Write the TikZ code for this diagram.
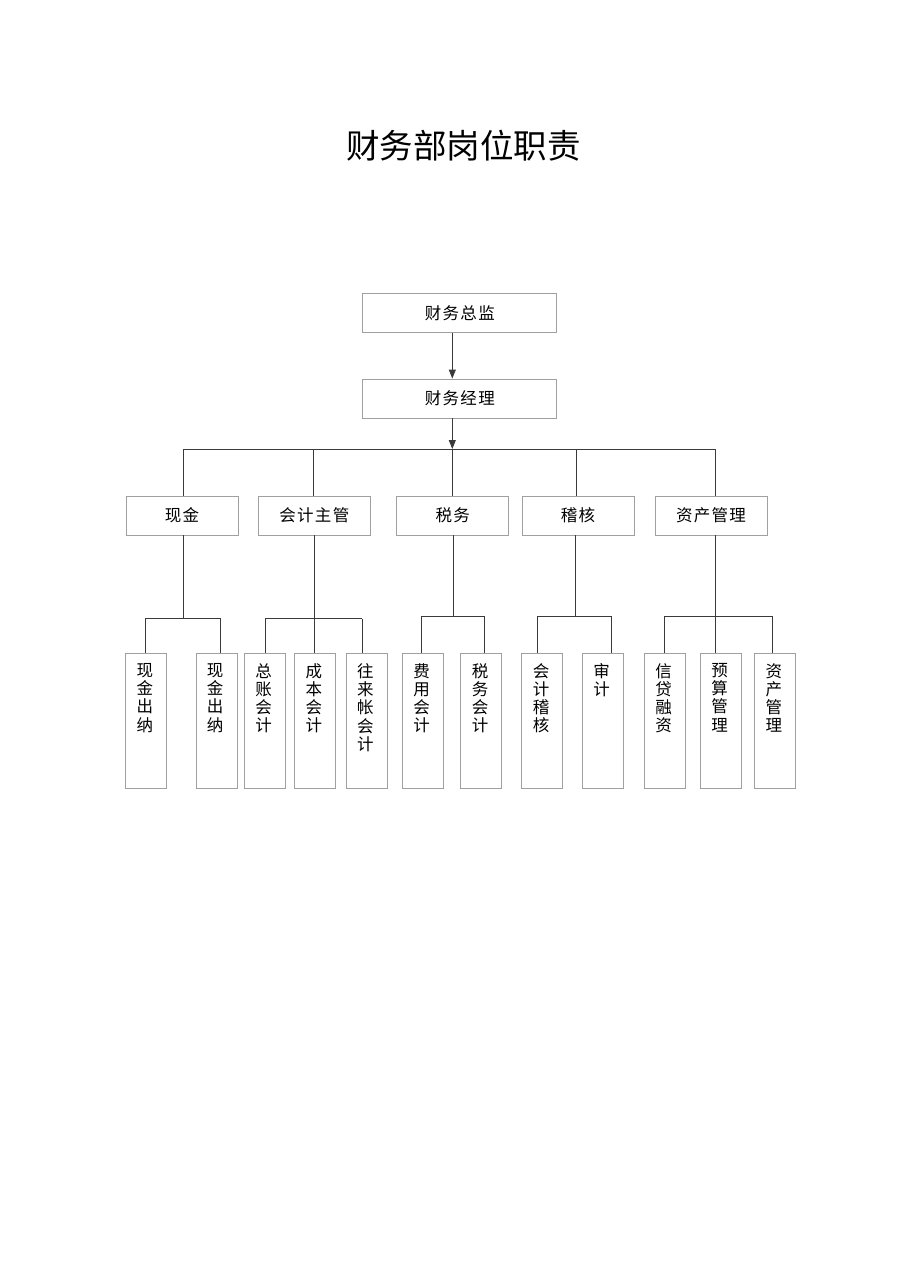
\documentclass[tikz,border=0pt]{standalone}
\usepackage{fontspec}
\newfontfamily\cjk{Noto Sans CJK SC}
\newfontfamily\cjksp[LetterSpace=8]{Noto Sans CJK SC}
\usetikzlibrary{arrows.meta}
\definecolor{boxgray}{HTML}{A0A0A0}
\definecolor{linegray}{HTML}{3A3A3A}
\tikzset{
  box/.style={draw=boxgray, line width=0.8pt, inner sep=0pt, fill=white,
    font=\cjksp\fontsize{16.5}{18.3}\selectfont},
  topbox/.style={box, minimum width=194pt, minimum height=39pt},
  midbox/.style={box, minimum width=112pt, minimum height=39pt},
  leafbox/.style={box, minimum width=41pt, minimum height=135pt},
  vtext/.style={anchor=north, inner sep=0pt, align=center,
    font=\cjk\fontsize{16.5}{18.3}\selectfont},
  conn/.style={draw=linegray, line width=0.8pt},
  arr/.style={conn, -{Triangle[width=7pt,length=9pt]}},
  titletext/.style={font=\cjk\fontsize{33.5}{36}\selectfont, inner sep=0pt}
}
\begin{document}
\begin{tikzpicture}[x=1pt,y=-1pt]
\useasboundingbox (0,0) rectangle (909,1286);
\node[titletext] (title) at (463.3,145.7) {财务部岗位职责};

% level 0/1
\node[topbox] (top) at (459.8,313) {财务总监};
\node[topbox] (mgr) at (459.8,398.5) {财务经理};

% level 2
\node[midbox] (xj) at (182,515.5) {现金};
\node[midbox] (kj) at (314.3,515.5) {会计主管};
\node[midbox] (sw) at (452.8,515.5) {税务};
\node[midbox] (jh) at (578,515.5) {稽核};
\node[midbox] (zc) at (711,515.5) {资产管理};

% level 3
\node[leafbox] (a1) at (146,720.5) {};
\node[leafbox] (a2) at (216.5,720.5) {};
\node[leafbox] (b1) at (265,720.5) {};
\node[leafbox] (b2) at (315,720.5) {};
\node[leafbox] (b3) at (366.5,720.5) {};
\node[leafbox] (c1) at (422.5,720.5) {};
\node[leafbox] (c2) at (481,720.5) {};
\node[leafbox] (d1) at (542,720.5) {};
\node[leafbox] (d2) at (602.5,720.5) {};
\node[leafbox] (e1) at (664.5,720.5) {};
\node[leafbox] (e2) at (720.5,720.5) {};
\node[leafbox] (e3) at (775,720.5) {};

\node[vtext] (ta1) at (144.8,663) {现\\金\\出\\纳};
\node[vtext] (ta2) at (215.2,663) {现\\金\\出\\纳};
\node[vtext] (tb1) at (263.5,663) {总\\账\\会\\计};
\node[vtext] (tb2) at (313.8,663) {成\\本\\会\\计};
\node[vtext] (tb3) at (365.3,663) {往\\来\\帐\\会\\计};
\node[vtext] (tc1) at (421.5,663) {费\\用\\会\\计};
\node[vtext] (tc2) at (480,663) {税\\务\\会\\计};
\node[vtext] (td1) at (541,663) {会\\计\\稽\\核};
\node[vtext] (td2) at (601.5,663) {审\\计};
\node[vtext] (te1) at (663.5,663) {信\\贷\\融\\资};
\node[vtext] (te2) at (719.5,663) {预\\算\\管\\理};
\node[vtext] (te3) at (773.8,663) {资\\产\\管\\理};

% spine
\coordinate (spine) at (452.3,0);
\coordinate (busL) at (183.5,449);
\coordinate (busR) at (715,449);
\coordinate (busM) at (452.3,449);
\draw[arr] (top.south -| spine) -- (mgr.north -| spine);
\draw[conn] (busL) -- (busR);
\draw[arr] (mgr.south -| spine) -- (busM);
\draw[conn] (busL) -- (busL |- xj.north);
\draw[conn] (313.8,449) coordinate (bk) -- (bk |- kj.north);
\draw[conn] (busM) -- (busM |- sw.north);
\draw[conn] (576,449) coordinate (bj) -- (bj |- jh.north);
\draw[conn] (busR) -- (busR |- zc.north);

% 现金 group
\coordinate (hA) at (183.5,618);
\coordinate (hAL) at (145,618);
\coordinate (hAR) at (220,618);
\draw[conn] (xj.south -| hA) -- (hA);
\draw[conn] (hAL) -- (hAR);
\draw[conn] (hAL) -- (hAL |- a1.north);
\draw[conn] (hAR) -- (hAR |- a2.north);

% 会计主管 group
\coordinate (hB) at (314,618.5);
\coordinate (hBL) at (265,618.5);
\coordinate (hBR) at (362,618.5);
\draw[conn] (kj.south -| hB) -- (hB |- b2.north);
\draw[conn] (hBL) -- (hBR);
\draw[conn] (hBL) -- (hBL |- b1.north);
\draw[conn] (hBR) -- (hBR |- b3.north);

% 税务 group
\coordinate (hC) at (453,616);
\coordinate (hCL) at (421.7,616);
\coordinate (hCR) at (484,616);
\draw[conn] (sw.south -| hC) -- (hC);
\draw[conn] (hCL) -- (hCR);
\draw[conn] (hCL) -- (hCL |- c1.north);
\draw[conn] (hCR) -- (hCR |- c2.north);

% 稽核 group
\coordinate (hD) at (575.7,616);
\coordinate (hDL) at (537.7,616);
\coordinate (hDR) at (611.7,616);
\draw[conn] (jh.south -| hD) -- (hD);
\draw[conn] (hDL) -- (hDR);
\draw[conn] (hDL) -- (hDL |- d1.north);
\draw[conn] (hDR) -- (hDR |- d2.north);

% 资产管理 group
\coordinate (hE) at (715,616);
\coordinate (hEL) at (664,616);
\coordinate (hER) at (772,616);
\draw[conn] (zc.south -| hE) -- (hE |- e2.north);
\draw[conn] (hEL) -- (hER);
\draw[conn] (hEL) -- (hEL |- e1.north);
\draw[conn] (hER) -- (hER |- e3.north);
\end{tikzpicture}
\end{document}
